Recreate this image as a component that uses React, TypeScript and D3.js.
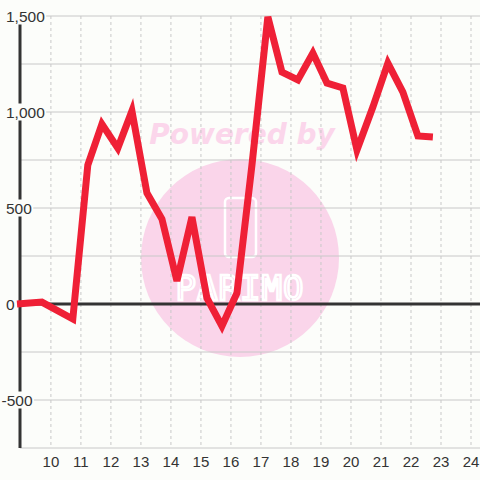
import { useEffect, useRef } from "react";
import * as d3 from "d3";

// readings
const xValues = [
  8.87, 9.7, 10.73, 11.23, 11.7, 12.23, 12.7, 13.2, 13.7, 14.2, 14.7, 15.2, 15.7, 16.2,
  16.7, 17.23, 17.7, 18.23, 18.73, 19.2, 19.73, 20.2, 20.73, 21.23, 21.73, 22.23, 22.73,
];
const yValues = [
  0, 10, -78, 724, 937, 812, 1005, 578, 443, 120, 453, 31, -115, 57,
  724, 1495, 1208, 1167, 1307, 1151, 1125, 802, 1026, 1255, 1104, 875, 870,
];
const xTicks = [10, 11, 12, 13, 14, 15, 16, 17, 18, 19, 20, 21, 22, 23, 24];
const yLabelTicks = [-500, 0, 500, 1000, 1500];
const yLabels = ["-500", "0", "500", "1,000", "1,500"];
const yGridTicks = [-750, -500, -250, 0, 250, 500, 750, 1000, 1250, 1500];

const W = 480;
const H = 480;
const bg = "#fcfdfa";

export default function App() {
  const svgRef = useRef<SVGSVGElement | null>(null);

  useEffect(() => {
    const svgEl = svgRef.current;
    if (!svgEl) return;
    const svg = d3.select(svgEl);
    svg.selectAll("*").remove();

    const margin = { top: 16, right: 0, bottom: 32, left: 20 };
    const x = d3.scaleLinear().domain([8.97, 24.3]).range([margin.left, W - margin.right]);
    const y = d3.scaleLinear().domain([-750, 1500]).range([H - margin.bottom, margin.top]);

    svg.append("rect").attr("width", W).attr("height", H).attr("fill", bg);

    // watermark
    const wm = svg.append("g");
    wm.append("circle").attr("cx", 240).attr("cy", 258).attr("r", 99).attr("fill", "#fad5ea");
    wm.append("text")
      .attr("x", 242).attr("y", 144)
      .attr("text-anchor", "middle")
      .attr("font-family", "DejaVu Sans, sans-serif")
      .attr("font-weight", "bold").attr("font-style", "italic")
      .attr("font-size", 28)
      .attr("fill", "#fbd6eb")
      .text("Powered by");
    wm.append("rect")
      .attr("x", 225).attr("y", 198).attr("width", 31).attr("height", 59).attr("rx", 4)
      .attr("fill", "none").attr("stroke", "#fff").attr("stroke-width", 2.5);
    wm.append("text")
      .attr("x", 240).attr("y", 300)
      .attr("text-anchor", "middle")
      .attr("font-family", "DejaVu Sans Mono, monospace")
      .attr("font-size", 34)
      .attr("letter-spacing", 1)
      .attr("fill", "none").attr("stroke", "#fff").attr("stroke-width", 2.5)
      .text("PARIMO");

    // grid
    svg.append("g").selectAll("line").data(yGridTicks).join("line")
      .attr("x1", margin.left).attr("x2", W)
      .attr("y1", (d) => y(d)).attr("y2", (d) => y(d))
      .attr("stroke", "#c8c8c8").attr("stroke-width", 1);
    svg.append("g").selectAll("line").data(xTicks).join("line")
      .attr("x1", (d) => x(d)).attr("x2", (d) => x(d))
      .attr("y1", margin.top).attr("y2", H - margin.bottom)
      .attr("stroke", "#c8c8c8").attr("stroke-width", 1).attr("stroke-dasharray", "3,3");

    // zero line + y axis line
    svg.append("line")
      .attr("x1", margin.left).attr("x2", W).attr("y1", y(0)).attr("y2", y(0))
      .attr("stroke", "#333").attr("stroke-width", 3);
    svg.append("line")
      .attr("x1", margin.left).attr("x2", margin.left)
      .attr("y1", margin.top).attr("y2", H - margin.bottom)
      .attr("stroke", "#333").attr("stroke-width", 3);

    // y labels with backgrounds, left aligned
    const yl = svg.append("g").attr("font-family", "Liberation Sans, Arial, sans-serif").attr("font-size", 15.5).attr("fill", "#333");
    yLabelTicks.forEach((t, i) => {
      const txt = yl.append("text")
        .attr("x", t < 0 ? 1.5 : 6).attr("y", y(t))
        .attr("dominant-baseline", "central")
        .text(yLabels[i]);
      const bb = (txt.node() as SVGTextElement).getBBox();
      yl.insert("rect", "text")
        .attr("x", bb.x - 1).attr("y", bb.y).attr("width", bb.width + 2).attr("height", bb.height)
        .attr("fill", bg);
    });

    // series
    const pts = xValues.map((v, i) => [v, yValues[i]] as [number, number]);
    const line = d3.line<[number, number]>().x((d) => x(d[0])).y((d) => y(d[1]));
    svg.append("path").datum(pts)
      .attr("d", line)
      .attr("fill", "none").attr("stroke", "#ef2036").attr("stroke-width", 7)
      .attr("stroke-linejoin", "miter");

    // x labels
    svg.append("g").selectAll("text").data(xTicks).join("text")
      .attr("x", (d) => x(d)).attr("y", 467)
      .attr("text-anchor", "middle")
      .attr("font-family", "Liberation Sans, Arial, sans-serif").attr("font-size", 15)
      .attr("fill", "#333")
      .text((d) => String(d));
  }, []);

  return (
    <svg ref={svgRef} width={W} height={H} style={{ position: "absolute", left: 0, top: 0 }} />
  );
}
